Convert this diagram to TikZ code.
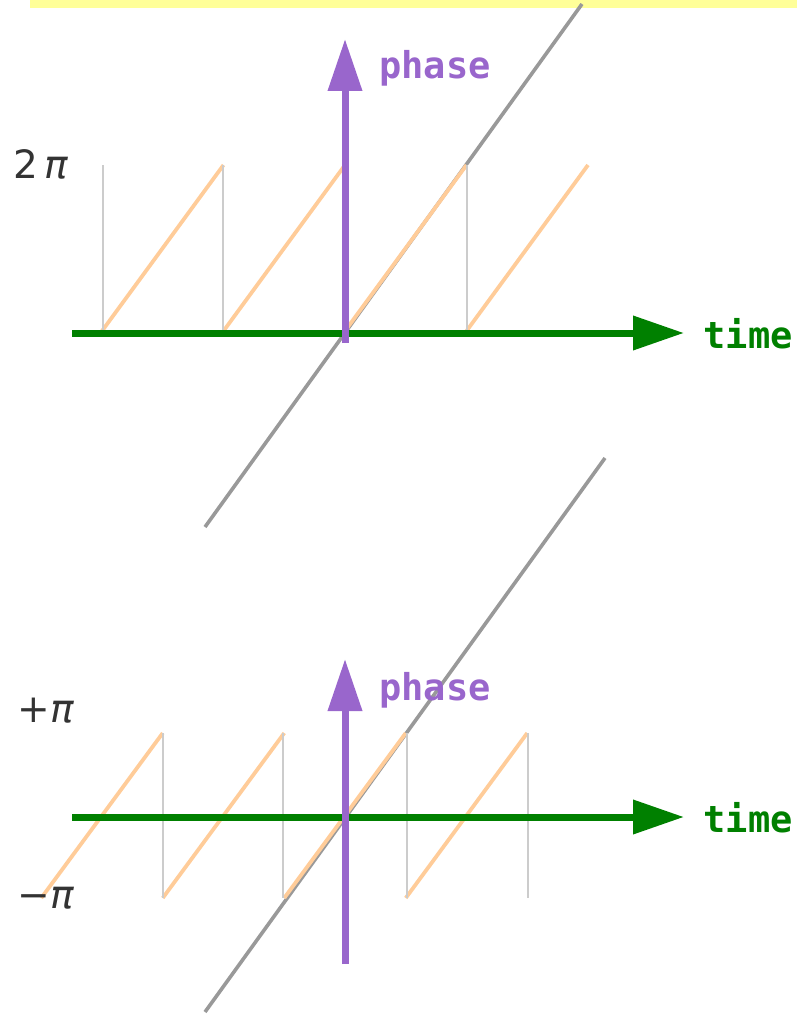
\documentclass[tikz,border=0pt]{standalone}
\usepackage{fontspec}
\setmainfont{DejaVu Sans}
\newfontfamily\labmono{DejaVu Sans Mono}
\usetikzlibrary{arrows.meta}
\definecolor{barY}{HTML}{FFFF99}
\definecolor{sawO}{HTML}{FFCC99}
\definecolor{lineG}{HTML}{999999}
\definecolor{thinG}{HTML}{CCCCCC}
\definecolor{axG}{HTML}{008000}
\definecolor{axP}{HTML}{9966CC}
\definecolor{txtD}{HTML}{333333}
\tikzset{
  unwrapped/.style={draw=lineG, line width=3.6pt},
  sawseg/.style={draw=sawO, line width=3.8pt},
  droplin/.style={draw=thinG, line width=1.3pt},
  timeax/.style={draw=axG, line width=7pt, -{Triangle[length=51pt,width=33pt]}},
  phaseax/.style={draw=axP, line width=7pt, -{Triangle[length=52pt,width=33pt]}},
  axlab/.style={font=\labmono\bfseries\fontsize{37}{42}\selectfont, inner sep=0pt},
  pilab/.style={font=\fontsize{39}{44}\selectfont, text=txtD, inner sep=0pt},
}
\begin{document}
\begin{tikzpicture}[x=1pt,y=-1pt]
\useasboundingbox (0,0) rectangle (797,1014);
\fill[barY] (30,0) rectangle (797,8);

% ---------- top panel ----------
\coordinate (gA) at (205,527); \coordinate (gB) at (582,4);
\draw[unwrapped] (gA) -- (gB);
\foreach \i/\xa in {0/102,1/223.5,2/345,3/466.5}{
  \coordinate (ts\i) at (\xa,331);
  \coordinate (te\i) at ({\xa+121.5},165);
  \draw[sawseg] (ts\i) -- (te\i);
}
\foreach \i/\xv in {0/103,1/223,2/467}{
  \coordinate (tv\i a) at (\xv,165); \coordinate (tv\i b) at (\xv,333);
  \draw[droplin] (tv\i a) -- (tv\i b);
}
\coordinate (tx0) at (72,333); \coordinate (tx1) at (684,333);
\draw[timeax] (tx0) -- (tx1);
\coordinate (py0) at (345,343); \coordinate (py1) at (345,39);
\draw[phaseax] (py0) -- (py1);
\node[axlab, text=axP] (tphase) at (435,68) {phase};
\node[axlab, text=axG] (ttime) at (748,334) {time};
\node[pilab] (twopi) at (41,164) {2\,{\itshape π}};

% ---------- bottom panel ----------
\coordinate (hA) at (205,1012); \coordinate (hB) at (605,458);
\draw[unwrapped] (hA) -- (hB);
\foreach \i/\xc in {0/102,1/223.5,2/345,3/466.5}{
  \coordinate (bs\i) at ({\xc-60.75},898);
  \coordinate (be\i) at ({\xc+60.75},733);
  \draw[sawseg] (bs\i) -- (be\i);
}
\foreach \i/\xv in {0/163,1/283,2/407,3/528}{
  \coordinate (bv\i a) at (\xv,733); \coordinate (bv\i b) at (\xv,898);
  \draw[droplin] (bv\i a) -- (bv\i b);
}
\coordinate (bx0) at (72,817); \coordinate (bx1) at (684,817);
\draw[timeax] (bx0) -- (bx1);
\coordinate (qy0) at (345,964); \coordinate (qy1) at (345,659);
\draw[phaseax] (qy0) -- (qy1);
\node[axlab, text=axP] (bphase) at (435,690) {phase};
\node[axlab, text=axG] (btime) at (748,818) {time};
\node[pilab] (pluspi) at (46,711) {+{\itshape π}};
\node[pilab] (minuspi) at (46,898) {−{\itshape π}};
\end{tikzpicture}
\end{document}
